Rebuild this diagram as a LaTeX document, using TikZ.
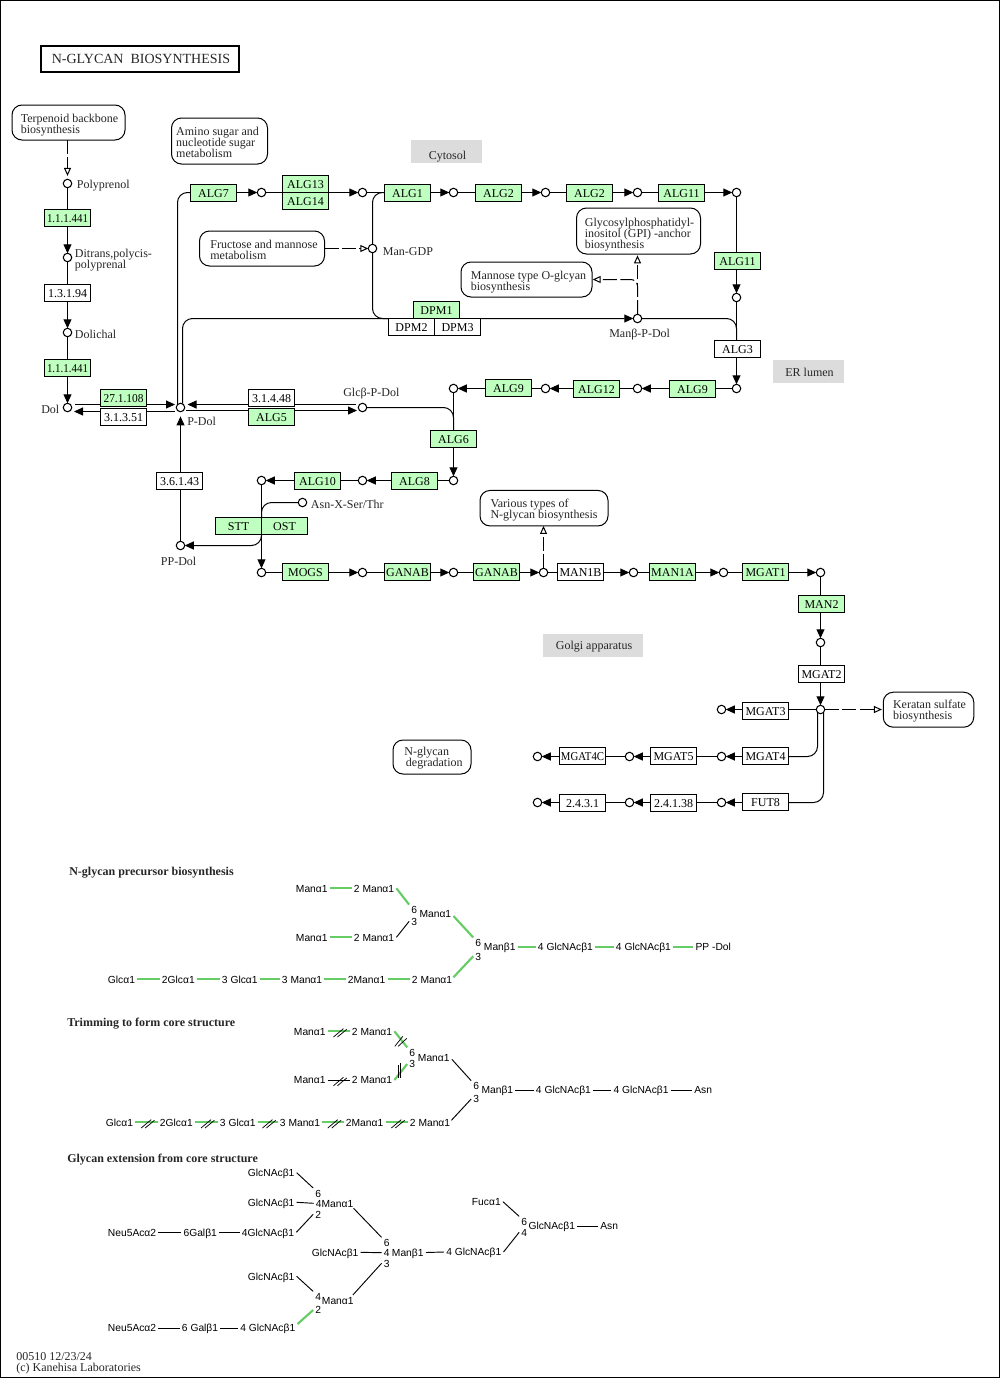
\documentclass[tikz,border=0pt]{standalone}
\usepackage{fontspec}
\setmainfont{Liberation Serif}
\newfontfamily\glyfont{Liberation Sans}
\usetikzlibrary{arrows.meta,calc}
\pgfdeclarelayer{edges}
\pgfsetlayers{edges,main}
\definecolor{enzgreen}{HTML}{BFFFBF}
\definecolor{linkgreen}{HTML}{66CC66}
\definecolor{areagrey}{HTML}{DCDCDC}
\def\px{0.75pt}
\newcommand{\nar}[2][.91]{\scalebox{#1}[1]{#2}}
\newcommand{\lift}[1]{\rule{0pt}{#1pt}}
\tikzset{
  every node/.style={font=\fontsize{9}{8.25}\selectfont,text=black!85},
  enz/.style={draw=black,fill=enzgreen,rectangle,minimum width=46*\px,minimum height=17*\px,inner sep=0pt,outer sep=0pt,text height=7pt,text depth=0pt,line width=0.75pt,text=black},
  enzw/.style={enz,fill=white},
  comp/.style={draw=black,fill=white,circle,minimum size=8.5*\px,inner sep=0pt,outer sep=0pt,line width=0.8pt},
  mapbox/.style={draw=black,fill=white,rectangle,rounded corners=7.5pt,align=left,inner sep=0pt,outer sep=0pt,line width=0.75pt},
  area/.style={fill=areagrey,rectangle,inner sep=0pt,minimum height=23*\px},
  lab/.style={anchor=west,inner sep=0pt,text height=8pt,text depth=1.5pt},
  lab2/.style={anchor=north west,inner sep=0pt,align=left},
  head/.style={lab,font=\fontsize{9}{10}\selectfont\bfseries},
  edge/.style={draw=black,line width=0.75pt},
  rx/.style={edge,-{Triangle[length=6.75pt,width=6pt]}},
  dsh/.style={edge,dash pattern=on 10.5pt off 2.6pt,-{Triangle[open,fill=white,length=6pt,width=5.25pt]}},
  curve/.style={rounded corners=7.5pt},
  gly/.style={anchor=west,inner xsep=1.5pt,inner ysep=0pt,xshift=-1.5pt,text height=5.6pt,text depth=0pt,font=\fontsize{7.7}{9}\selectfont\glyfont,text=black},
  dig/.style={inner xsep=1.5pt,inner ysep=1pt,text height=5.6pt,text depth=0pt,font=\fontsize{7.7}{9}\selectfont\glyfont,text=black},
  gl/.style={draw=linkgreen,line width=1.6pt},
  bl/.style={draw=black,line width=0.7pt},
  hashm/.style={draw=black,line width=0.55pt},
}
\newcommand{\hashh}[2]{%
  \draw[hashm] ($(#1.east)!0.5!(#2.west)+(-5.3,5.7)$) -- ++(10,-8.4);
  \draw[hashm] ($(#1.east)!0.5!(#2.west)+(-1.3,5.7)$) -- ++(9.3,-7.7);}
\begin{document}
\begin{tikzpicture}[x=0.75pt,y=-0.75pt]
\useasboundingbox (0,0) rectangle (1000,1378);
\node[draw=black,line width=0.75pt,minimum width=999*\px,minimum height=1377*\px,inner sep=0pt] (frame) at (500,689) {};
% title and areas
\node[draw=black,line width=1.6pt,minimum width=198*\px,minimum height=26*\px,inner sep=0pt,text height=7pt,text depth=0pt,font=\fontsize{10.5}{12}\selectfont] (title) at (140,59) {\hspace*{1.5pt}N-GLYCAN\ \ BIOSYNTHESIS};
\node[area,minimum width=71*\px,text height=11.25pt,text depth=0pt] (cyt) at (446.5,151.5) {\hspace*{1.5pt}Cytosol};
\node[area,minimum width=71*\px,text height=8.2pt,text depth=0pt] (er) at (808.5,371.5) {\hspace*{1.5pt}ER lumen};
\node[area,minimum width=100*\px,text height=6pt,text depth=0pt] (gol) at (593,645.5) {\hspace*{1.5pt}Golgi apparatus};
% map boxes
\node[mapbox,minimum width=113*\px,minimum height=35*\px] (terp) at (68.5,122.5) {\lift{10.6}\hspace*{1.5pt}Terpenoid backbone\\\hspace*{1.5pt}biosynthesis};
\node[mapbox,minimum width=96*\px,minimum height=46*\px] (amino) at (219.5,141) {\lift{7.6}Amino sugar and\hspace*{3pt}\\nucleotide sugar\\metabolism};
\node[mapbox,minimum width=125*\px,minimum height=35*\px] (fruc) at (262,248.5) {\lift{7.6}\hspace*{3pt}Fructose and mannose\\\hspace*{3pt}metabolism};
\node[mapbox,minimum width=124*\px,minimum height=46*\px] (gpi) at (638.5,231) {\lift{11.35}\hspace*{1.5pt}Glycosylphosphatidyl-\\\hspace*{1.5pt}inositol (GPI) -anchor\\\hspace*{1.5pt}biosynthesis};
\node[mapbox,minimum width=131*\px,minimum height=35*\px] (mann) at (526.5,279.5) {\lift{10.6}\hspace*{3pt}Mannose type O-glcyan\\\hspace*{3pt}biosynthesis};
\node[mapbox,minimum width=128*\px,minimum height=35.5*\px] (vari) at (544,508.2) {\lift{9.1}Various types of\\N-glycan biosynthesis};
\node[mapbox,minimum width=90.5*\px,minimum height=35*\px] (kera) at (928.5,709.7) {\lift{9.1}\hspace*{1.5pt}Keratan sulfate\\\hspace*{1.5pt}biosynthesis};
\node[mapbox,minimum width=78*\px,minimum height=34*\px] (degr) at (432,757) {\lift{7.6}\hspace*{2.25pt}N-glycan\\\hspace*{3.4pt}degradation};
% compounds
\node[comp] (poly) at (67.5,183.5) {};
\node[comp] (ditr) at (67.5,257.5) {};
\node[comp] (doli) at (67.5,332.5) {};
\node[comp] (dol) at (67.5,407.5) {};
\node[comp] (pdol) at (180.5,407.5) {};
\node[comp] (glcp) at (362.5,407.5) {};
\node[comp] (c1) at (261.5,192.5) {};
\node[comp] (c2) at (362.5,192.5) {};
\node[comp] (mgdp) at (372.5,248.5) {};
\node[comp] (c3) at (453.5,192.5) {};
\node[comp] (c4) at (545.5,192.5) {};
\node[comp] (c5) at (637.5,192.5) {};
\node[comp] (c6) at (736.5,192.5) {};
\node[comp] (c7) at (736.5,297.5) {};
\node[comp] (manp) at (637.5,318.5) {};
\node[comp] (c8) at (736.5,388.5) {};
\node[comp] (c9) at (637.5,388.5) {};
\node[comp] (c10) at (545.5,388.5) {};
\node[comp] (c11) at (453.5,388.5) {};
\node[comp] (c12) at (453.5,480.5) {};
\node[comp] (c13) at (362.5,480.5) {};
\node[comp] (c14) at (261.5,480.5) {};
\node[comp] (asn) at (302.5,502.5) {};
\node[comp] (ppdol) at (180.5,545.5) {};
\node[comp] (c15) at (261.5,572.5) {};
\node[comp] (c16) at (362.5,572.5) {};
\node[comp] (c17) at (453.5,572.5) {};
\node[comp] (c18) at (543.5,572.5) {};
\node[comp] (c19) at (633.5,572.5) {};
\node[comp] (c20) at (723.5,572.5) {};
\node[comp] (c21) at (820.5,572.5) {};
\node[comp] (c22) at (820.5,642.5) {};
\node[comp] (c23) at (820.5,709.5) {};
\node[comp] (c24) at (721.5,709.5) {};
\node[comp] (c25) at (721.5,756.5) {};
\node[comp] (c26) at (629.5,756.5) {};
\node[comp] (c27) at (537.5,756.5) {};
\node[comp] (c28) at (721.5,802.5) {};
\node[comp] (c29) at (629.5,802.5) {};
\node[comp] (c30) at (537.5,802.5) {};
% compound labels
\node[lab] (lpoly) at (76.7,184) {Polyprenol};
\node[lab2] (lditr) at (74.7,248.5) {Ditrans,polycis-\\polyprenal};
\node[lab] (ldoli) at (74.7,333.7) {Dolichal};
\node[lab] (ldol) at (41,408.7) {Dol};
\node[lab] (lpdol) at (187,420.7) {P-Dol};
\node[lab] (lglcp) at (343,392.5) {Glcβ-P-Dol};
\node[lab] (lmgdp) at (382.7,251.3) {Man-GDP};
\node[lab] (lmanp) at (609,333.3) {Manβ-P-Dol};
\node[lab] (lasn) at (310.7,503.7) {Asn-X-Ser/Thr};
\node[lab] (lpp) at (160.7,560.7) {PP-Dol};
% enzymes
\node[enz] (e1) at (67.5,218) {\nar{1.1.1.441}};
\node[enzw] (e2) at (67.5,293) {1.3.1.94};
\node[enz] (e3) at (67.5,368) {\nar{1.1.1.441}};
\node[enz] (e4) at (123.5,398) {\nar[.95]{27.1.108}};
\node[enzw] (e5) at (123.5,417) {3.1.3.51};
\node[enzw] (e6) at (271.5,398) {3.1.4.48};
\node[enz] (alg5) at (271.5,417) {ALG5};
\node[enzw] (e8) at (179.5,481) {3.6.1.43};
\node[enz] (alg7) at (213.5,193) {ALG7};
\node[enz] (alg13) at (305.5,184) {ALG13};
\node[enz] (alg14) at (305.5,201) {ALG14};
\node[enz] (alg1) at (407.5,193) {ALG1};
\node[enz] (alg2a) at (498.5,193) {ALG2};
\node[enz] (alg2b) at (589.5,193) {ALG2};
\node[enz] (alg11a) at (681.5,193) {ALG11};
\node[enz] (alg11b) at (737.5,261) {ALG11};
\node[enzw] (alg3) at (737.5,349) {ALG3};
\node[enz] (dpm1) at (436.5,310) {DPM1};
\node[enzw] (dpm2) at (411.5,327) {DPM2};
\node[enzw] (dpm3) at (457.5,327) {DPM3};
\node[enz] (alg9a) at (692.5,389) {ALG9};
\node[enz] (alg12) at (596.5,389) {ALG12};
\node[enz] (alg9b) at (508.5,388) {ALG9};
\node[enz] (alg6) at (453.5,439) {ALG6};
\node[enz] (alg8) at (414.5,481) {ALG8};
\node[enz] (alg10) at (317.5,481) {ALG10};
\node[enz] (stt) at (238.5,526) {STT};
\node[enz] (ost) at (284.5,526) {OST};
\node[enz] (mogs) at (305.5,572) {MOGS};
\node[enz] (gana) at (407.5,572) {GANAB};
\node[enz] (ganb) at (496.5,572) {GANAB};
\node[enzw] (man1b) at (580.5,572) {MAN1B};
\node[enz] (man1a) at (672.5,572) {MAN1A};
\node[enz] (mgat1) at (765.5,572) {MGAT1};
\node[enz] (man2) at (821.5,604) {MAN2};
\node[enzw] (mgat2) at (821.5,674) {MGAT2};
\node[enzw] (mgat3) at (765.5,711) {MGAT3};
\node[enzw] (mgat4) at (765.5,756) {MGAT4};
\node[enzw] (mgat5) at (673.5,756) {MGAT5};
\node[enzw] (mgat4c) at (582.5,756) {\nar[.9]{MGAT4C}};
\node[enzw] (fut8) at (765.5,802) {FUT8};
\node[enzw] (e2438) at (673.5,803) {2.4.1.38};
\node[enzw] (e2431) at (582.5,803) {2.4.3.1};
% connectors
\begin{pgfonlayer}{edges}
\draw[dsh,shorten >=2.5pt] (poly |- terp.south) -- (poly);
\draw[rx] (poly) -- (ditr);
\draw[rx] (ditr) -- (doli);
\draw[rx] (doli) -- (dol);
\draw[rx] ([shift={(7.5,-3)}]dol.center) -- ([shift={(-5.5,-3)}]pdol.center);
\draw[rx] ([shift={(-5.5,4)}]pdol.center) -- ([shift={(6.5,4)}]dol.center);
\draw[rx] ([shift={(-6.5,-3)}]glcp.center) -- ([shift={(7,-3)}]pdol.center);
\draw[rx] ([shift={(5.5,3)}]pdol.center) -- ([shift={(-5.5,3)}]glcp.center);
\draw[rx,shorten >=3.5pt] (ppdol) -- (pdol);
\draw[edge,curve] ([shift={(-3,-3)}]pdol.center) |- (alg7.west |- c1);
\draw[rx,curve] ([shift={(2,-4)}]pdol.center) |- (manp);
\draw[rx] (c2 -| alg7) -- (c1);
\draw[rx] (c1) -- (c2);
\draw[edge] (c2) -- (c3);
\draw[rx] (alg1 |- c3) -- (c3);
\draw[rx] (c3) -- (c4);
\draw[rx] (c4) -- (c5);
\draw[rx] (c5) -- (c6);
\draw[rx] (c6) -- (c7);
\draw[rx] (c7) -- (c8);
\draw[edge,curve] (alg1.west |- c2) -| (mgdp.center) |- (dpm1.south);
\draw[dsh] (fruc.east |- mgdp) -- (mgdp);
\draw[edge,curve] (manp) -| (c8 |- alg3.north);
\draw[dsh,shorten >=1pt] (manp) -- (manp |- gpi.south);
\draw[dsh,rounded corners=5pt,shorten >=0.5pt] (manp) |- (mann.east);
\draw[rx] (c8) -- (c9);
\draw[rx] (c9) -- (c10);
\draw[rx] (c10) -- (c11);
\draw[rx] (c11) -- (c12);
\draw[edge,curve] (glcp) -| (c11 |- alg6.north);
\draw[rx] (c12) -- (c13);
\draw[rx] (c13) -- (c14);
\draw[rx] (c14) -- (c15);
\draw[edge,curve] (asn) -| (stt.north east);
\draw[rx,curve] (stt.south east) |- (ppdol);
\draw[rx] (c15) -- (c16);
\draw[rx] (c16) -- (c17);
\draw[rx] (c17) -- (c18);
\draw[rx] (c18) -- (c19);
\draw[rx] (c19) -- (c20);
\draw[rx] (c20) -- (c21);
\draw[rx] (c21) -- (c22);
\draw[rx] (c22) -- (c23);
\draw[dsh] (c18) -- (c18 |- vari.south);
\draw[dsh,shorten >=1pt] (c23) -- (kera.west |- c23);
\draw[rx] (c23) -- (c24);
\draw[edge,curve] ([shift={(-3,3)}]c23.center) |- (mgat4.east |- c25);
\draw[edge,curve] ([shift={(3,3)}]c23.center) |- (fut8.east |- c28);
\draw[rx] (mgat4 |- c25) -- (c25);
\draw[rx] (c25) -- (c26);
\draw[rx] (c26) -- (c27);
\draw[rx] (fut8 |- c28) -- (c28);
\draw[rx] (c28) -- (c29);
\draw[rx] (c29) -- (c30);
\end{pgfonlayer}
% N-glycan precursor biosynthesis
\node[head] (h1) at (69,871) {N-glycan precursor biosynthesis};
\node[gly] (pa1) at (295.7,888.3) {Manα1};
\node[gly] (pa2) at (353.7,888.3) {2 Manα1};
\node[gly] (pb1) at (295.7,937.3) {Manα1};
\node[gly] (pb2) at (353.7,937.3) {2 Manα1};
\node[gly] (pc1) at (107.7,979.3) {Glcα1};
\node[gly] (pc2) at (161.7,979.3) {2Glcα1};
\node[gly] (pc3) at (221.7,979.3) {3 Glcα1};
\node[gly] (pc4) at (281.7,979.3) {3 Manα1};
\node[gly] (pc5) at (347.7,979.3) {2Manα1};
\node[gly] (pc6) at (411.7,979.3) {2 Manα1};
\node[dig] (ps1) at (414.3,910) {6};
\node[dig] (pt1) at (414.3,921.3) {3};
\node[gly] (pm1) at (419.3,914) {Manα1};
\node[dig] (ps2) at (478.3,942.7) {6};
\node[dig] (pt2) at (478.3,956.3) {3};
\node[gly] (pcore) at (483.7,947) {Manβ1};
\node[gly] (pg1) at (537.7,947) {4 GlcNAcβ1};
\node[gly] (pg2) at (615.7,947) {4 GlcNAcβ1};
\node[gly] (pdl) at (695.3,947) {PP -Dol};
\draw[gl] (pa1.east) -- (pa2.west);
\draw[gl] (pb1.east) -- (pb2.west);
\draw[gl] (pc1.east) -- (pc2.west);
\draw[gl] (pc2.east) -- (pc3.west);
\draw[gl] (pc3.east) -- (pc4.west);
\draw[gl] (pc4.east) -- (pc5.west);
\draw[gl] (pc5.east) -- (pc6.west);
\draw[gl] (pa2.east) -- (ps1.north west);
\draw[bl] (pb2.east) -- (pt1.west);
\draw[gl] ([shift={(0,2)}]pm1.east) -- (ps2.north west);
\draw[gl] ([shift={(-1,-2)}]pc6.east) -- (pt2.west);
\draw[gl] (pcore.east) -- (pg1.west);
\draw[gl] (pg1.east) -- (pg2.west);
\draw[gl] (pg2.east) -- (pdl.west);
% Trimming to form core structure
\node[head] (h2) at (67,1022) {Trimming to form core structure};
\node[gly] (qa1) at (293.7,1031.3) {Manα1};
\node[gly] (qa2) at (351.7,1031.3) {2 Manα1};
\node[gly] (qb1) at (293.7,1080) {Manα1};
\node[gly] (qb2) at (351.7,1080) {2 Manα1};
\node[gly] (qc1) at (105.7,1122.3) {Glcα1};
\node[gly] (qc2) at (159.7,1122.3) {2Glcα1};
\node[gly] (qc3) at (219.7,1122.3) {3 Glcα1};
\node[gly] (qc4) at (279.7,1122.3) {3 Manα1};
\node[gly] (qc5) at (345.7,1122.3) {2Manα1};
\node[gly] (qc6) at (409.7,1122.3) {2 Manα1};
\node[dig] (qs1) at (412.3,1052.7) {6};
\node[dig] (qt1) at (412.3,1064) {3};
\node[gly] (qm1) at (417.7,1057.3) {Manα1};
\node[dig] (qs2) at (476.3,1086) {6};
\node[dig] (qt2) at (476.3,1099) {3};
\node[gly] (qcore) at (481.3,1090) {Manβ1};
\node[gly] (qg1) at (535.7,1090) {4 GlcNAcβ1};
\node[gly] (qg2) at (613.3,1090) {4 GlcNAcβ1};
\node[gly] (qasn) at (694,1090) {Asn};
\draw[gl] (qa1.east) -- (qa2.west);
\draw[bl] (qb1.east) -- (qb2.west);
\draw[gl] (qc1.east) -- (qc2.west);
\draw[gl] (qc2.east) -- (qc3.west);
\draw[gl] (qc3.east) -- (qc4.west);
\draw[gl] (qc4.east) -- (qc5.west);
\draw[gl] (qc5.east) -- (qc6.west);
\hashh{qa1}{qa2}
\hashh{qb1}{qb2}
\hashh{qc1}{qc2}
\hashh{qc2}{qc3}
\hashh{qc3}{qc4}
\hashh{qc4}{qc5}
\hashh{qc5}{qc6}
\draw[gl] (qa2.east) -- (qs1.north west);
\draw[gl] (qb2.east) -- (qt1.west);
\draw[hashm] ($(qa2.east)!0.5!(qs1.north west)+(-6,7)$) -- ++(8,-10);
\draw[hashm] ($(qa2.east)!0.5!(qs1.north west)+(-2.7,7)$) -- ++(8.7,-8);
\draw[hashm] ($(qb2.east)!0.5!(qt1.west)+(-2.7,-7)$) -- ++(0,13.3);
\draw[hashm] ($(qb2.east)!0.5!(qt1.west)+(-0.3,-9)$) -- ++(0,15);
\draw[bl] ([shift={(0,2)}]qm1.east) -- (qs2.north west);
\draw[bl] ([shift={(-1,-2)}]qc6.east) -- (qt2.west);
\draw[bl] (qcore.east) -- (qg1.west);
\draw[bl] (qg1.east) -- (qg2.west);
\draw[bl] (qg2.east) -- (qasn.west);
% Glycan extension from core structure
\node[head] (h3) at (67,1158) {Glycan extension from core structure};
\node[gly] (ra) at (247.7,1172.7) {GlcNAcβ1};
\node[gly] (rb) at (247.7,1202.3) {GlcNAcβ1};
\node[gly] (rc1) at (107.7,1232.3) {Neu5Acα2};
\node[gly] (rc2) at (183.3,1232.3) {6Galβ1};
\node[gly] (rc3) at (241.7,1232.3) {4GlcNAcβ1};
\node[dig] (rs1) at (318.3,1193.3) {6};
\node[gly] (rm1) at (315.7,1203.3) {4Manα1};
\node[dig] (rt1) at (318.3,1214.3) {2};
\node[dig] (rs2) at (386.7,1242.7) {6};
\node[dig] (rf2) at (386.7,1252.7) {4};
\node[dig] (rt2) at (386.7,1263.3) {3};
\node[gly] (rcore) at (391.7,1252.5) {Manβ1};
\node[gly] (rd) at (311.7,1252.3) {GlcNAcβ1};
\node[gly] (re) at (247.7,1276.3) {GlcNAcβ1};
\node[dig] (rf3) at (318.3,1296.7) {4};
\node[gly] (rm2) at (321.7,1301) {Manα1};
\node[dig] (rt3) at (318.3,1310) {2};
\node[gly] (rg1) at (107.7,1328) {Neu5Acα2};
\node[gly] (rg2) at (181.7,1328) {6 Galβ1};
\node[gly] (rg3) at (240,1328) {4 GlcNAcβ1};
\node[gly] (rh) at (446,1252) {4 GlcNAcβ1};
\node[gly] (rfuc) at (471.7,1201.7) {Fucα1};
\node[dig] (rs4) at (524.3,1221.7) {6};
\node[dig] (rf4) at (524.3,1232.3) {4};
\node[gly] (rn) at (528.3,1226) {GlcNAcβ1};
\node[gly] (rasn) at (600,1226) {Asn};
\draw[bl] (ra.east) -- (rs1.north west);
\draw[bl] (rb.east) -- (rm1.west);
\draw[bl] (rc1.east) -- (rc2.west);
\draw[bl] (rc2.east) -- (rc3.west);
\draw[bl] (rc3.east) -- (rt1.west);
\draw[bl] ([shift={(-2,1)}]rm1.south east) -- (rs2.north west);
\draw[bl] (rd.east) -- (rf2.west);
\draw[bl] ([shift={(-3,-2)}]rm2.north east) -- (rt2.west);
\draw[bl] (re.east) -- (rf3.north west);
\draw[gl] (rg3.north east) -- (rt3.west);
\draw[bl] (rg1.east) -- (rg2.west);
\draw[bl] (rg2.east) -- (rg3.west);
\draw[bl] (rcore.east) -- (rh.west);
\draw[bl] (rh.east) -- (rf4.west);
\draw[bl] (rfuc.east) -- (rs4.north west);
\draw[bl] (rn.east) -- (rasn.west);
% footer
\node[lab2] (foot) at (16,1352.5) {00510 12/23/24\\(c) Kanehisa Laboratories};
\end{tikzpicture}
\end{document}
